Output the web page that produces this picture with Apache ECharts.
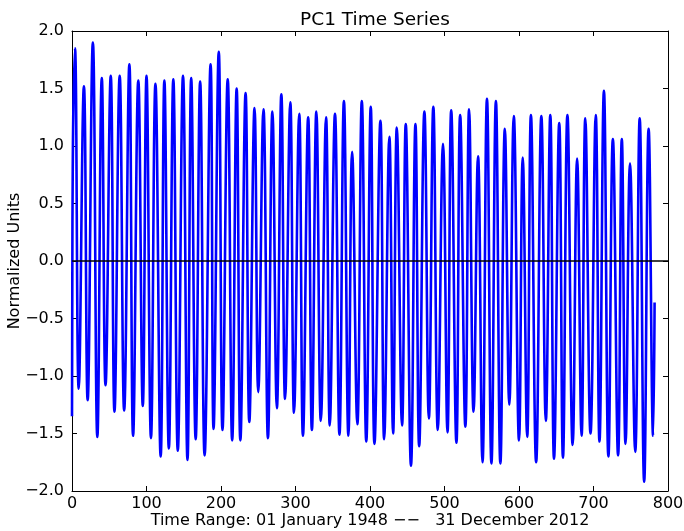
<!DOCTYPE html>
<html><head><meta charset="utf-8">
<script src="https://cdn.jsdelivr.net/npm/echarts@6/dist/echarts.min.js"></script>
<style>html,body{margin:0;padding:0;background:#fff}#c{width:684px;height:531px}</style>
</head><body><div id="c"></div>
<script>
const titleText = 'PC1 Time Series';
const xAxisLabel = 'Time Range: 01 January 1948 \u2212\u2212   31 December 2012';
const yAxisLabel = 'Normalized Units';
const xTickValues = [0, 100, 200, 300, 400, 500, 600, 700, 800];
const yTickValues = [-2.0, -1.5, -1.0, -0.5, 0.0, 0.5, 1.0, 1.5, 2.0];

// month index (0 = Jan 1948) of the turning points
const monthIndex = [
  0, 1, 4, 9, 16, 21, 28, 34, 40, 45, 52, 57, 64, 70, 77, 82, 89, 95, 100, 106,
  112, 119, 124, 130, 136, 142, 149, 155, 160, 166, 172, 178, 186, 190, 197, 202,
  209, 215, 221, 226, 233, 238, 245, 250, 257, 263, 269, 275, 281, 286, 293, 298,
  305, 310, 317, 322, 328, 334, 341, 346, 353, 359, 365, 371, 376, 383, 389, 395,
  401, 406, 414, 419, 426, 431, 436, 443, 448, 455, 461, 466, 473, 479, 485, 491,
  498, 504, 509, 516, 521, 528, 533, 539, 545, 551, 557, 563, 569, 575, 581, 587,
  593, 600, 605, 611, 616, 623, 630, 636, 642, 647, 654, 659, 665, 672, 678, 684,
  689, 696, 703, 708, 714, 720, 726, 733, 738, 743, 749, 756, 762, 768, 774, 780, 782
];
const pc1Value = [
  -1.35, 0.80, 1.85, -1.11, 1.52, -1.21, 1.90, -1.53, 1.59, -1.08, 1.61, -1.31, 1.61, -1.30, 1.71, -1.52, 1.57, -1.26, 1.61, -1.54,
  1.54, -1.70, 1.57, -1.63, 1.58, -1.65, 1.61, -1.73, 1.59, -1.55, 1.56, -1.69, 1.71, -1.46, 1.82, -1.47,
  1.58, -1.56, 1.50, -1.56, 1.46, -1.40, 1.33, -1.14, 1.32, -1.54, 1.30, -1.28, 1.45, -1.20, 1.38, -1.32,
  1.28, -1.52, 1.25, -1.47, 1.30, -1.39, 1.25, -1.43, 1.28, -1.51, 1.39, -1.52, 0.95, -1.42, 1.39, -1.57,
  1.34, -1.59, 1.22, -1.55, 1.08, -1.50, 1.16, -1.43, 1.19, -1.78, 1.19, -1.61, 1.30, -1.37, 1.34, -1.47,
  1.02, -1.49, 1.31, -1.58, 1.27, -1.44, 1.32, -1.31, 0.91, -1.75, 1.41, -1.76, 1.39, -1.76, 1.15, -1.25,
  1.26, -1.56, 0.90, -1.53, 1.27, -1.75, 1.26, -1.39, 1.27, -1.72, 1.20, -1.71, 1.27, -1.60, 0.89, -1.52,
  1.24, -1.50, 1.27, -1.57, 1.48, -1.70, 1.06, -1.69, 1.06, -1.59, 0.85, -1.66, 1.24, -1.92, 1.15, -1.52, -0.36
];

const FONT = 'DejaVu Sans';
const seriesData = monthIndex.map((m, i) => [m, pc1Value[i]]);
const fmtY = v => v.toFixed(1).replace('-', '\u2212');

const chart = echarts.init(document.getElementById('c'), null, {renderer: 'canvas'});
const tickStyle = {show: true, inside: true, length: 5, lineStyle: {color: '#000', width: 1}};
const lineStyle = {show: true, onZero: false, lineStyle: {color: '#000', width: 1}};
chart.setOption({
  animation: false,
  backgroundColor: '#fff',
  title: {
    text: titleText, left: 370, top: 6, textAlign: 'center',
    textStyle: {fontFamily: FONT, fontSize: 18.5, fontWeight: 'normal', color: '#000'}
  },
  grid: {left: 72, right: 16, top: 31, bottom: 40, containLabel: false, outerBoundsMode: 'none'},
  xAxis: [{
    type: 'value', min: xTickValues[0], max: xTickValues[xTickValues.length - 1], interval: 100,
    position: 'bottom',
    name: xAxisLabel, nameLocation: 'middle', nameGap: 22, nameMoveOverlap: false,
    nameTextStyle: {fontFamily: FONT, fontSize: 16, color: '#000'},
    axisLine: lineStyle, axisTick: tickStyle, splitLine: {show: false},
    axisLabel: {fontFamily: FONT, fontSize: 16, color: '#000', margin: 5}
  }, {
    type: 'value', min: xTickValues[0], max: xTickValues[xTickValues.length - 1], interval: 100,
    position: 'top', axisLine: lineStyle, axisTick: tickStyle, splitLine: {show: false},
    axisLabel: {show: false}
  }],
  yAxis: [{
    type: 'value', min: yTickValues[0], max: yTickValues[yTickValues.length - 1], interval: 0.5,
    position: 'left',
    name: yAxisLabel, nameLocation: 'middle', nameGap: 49, nameRotate: 90, nameMoveOverlap: false,
    nameTextStyle: {fontFamily: FONT, fontSize: 16, color: '#000'},
    axisLine: lineStyle, axisTick: tickStyle, splitLine: {show: false},
    axisLabel: {fontFamily: FONT, fontSize: 16, color: '#000', margin: 8, formatter: fmtY}
  }, {
    type: 'value', min: yTickValues[0], max: yTickValues[yTickValues.length - 1], interval: 0.5,
    position: 'right', axisLine: lineStyle, axisTick: tickStyle, splitLine: {show: false},
    axisLabel: {show: false}
  }],
  series: [{
    type: 'line', xAxisIndex: 0, yAxisIndex: 0,
    data: seriesData, showSymbol: false, smooth: 0.45,
    lineStyle: {color: '#0000ff', width: 2.6},
    markLine: {
      silent: true, symbol: 'none', label: {show: false},
      lineStyle: {color: '#000', width: 1.5, type: 'solid'},
      data: [{yAxis: 0}]
    }
  }]
});
</script></body></html>
